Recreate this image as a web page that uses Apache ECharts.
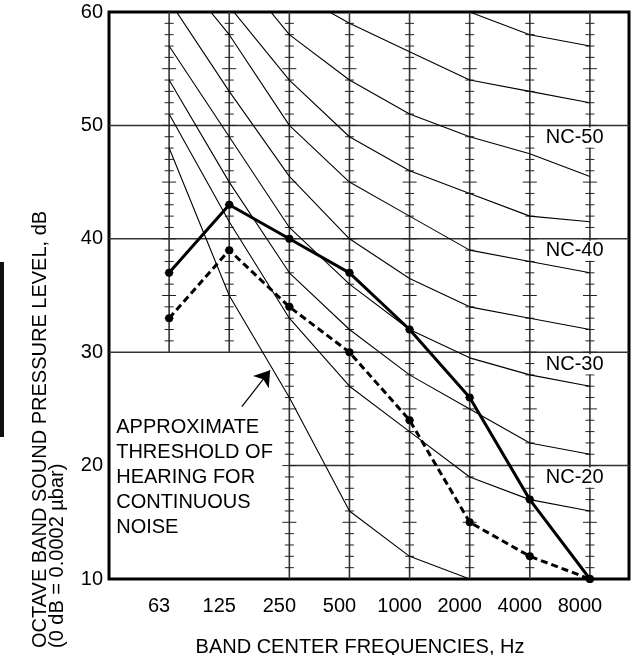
<!DOCTYPE html>
<html>
<head>
<meta charset="utf-8">
<title>NC curves</title>
<script src="https://cdn.jsdelivr.net/npm/echarts@6/dist/echarts.min.js"></script>
<style>
  html, body { margin: 0; padding: 0; background: #fff; }
  #chart { width: 631px; height: 655px; }
</style>
</head>
<body>
<div id="chart"></div>
<script>
// octave band centre frequencies (x categories, drawn on a value axis by index)
const freqLabels = ['63', '125', '250', '500', '1000', '2000', '4000', '8000'];

// NC curves, dB per band
const nc20 = [51, 41.5, 33, 27, 23, 19, 17, 16];
const nc25 = [54, 45, 37, 32, 28, 25, 22, 21];
const nc30 = [57, 49, 41, 36, 32, 29.5, 28, 27];
const nc35 = [61, 53, 45.5, 40, 36.5, 34, 33, 32];
const nc40 = [64.5, 58, 50, 45, 42, 39, 38, 37];
const nc45 = [67, 60.5, 54, 49, 46, 44, 42, 41.5];
const nc50 = [71, 64.5, 58, 54, 51, 49, 47.5, 45.5];
const nc55 = [74, 67, 62, 59, 56.5, 54, 53, 52];
const nc60 = [77, 71, 67, 63, 61, 60, 58, 57];
const ncCurves = [nc20, nc25, nc30, nc35, nc40, nc45, nc50, nc55, nc60];

// approximate threshold of hearing (63 .. 2000 Hz)
const threshold = [48, 35, 26, 16, 12, 10];

// measured spectra
const spectrumSolid = [37, 43, 40, 37, 32, 26, 17, 10];
const spectrumDashed = [33, 39, 34, 30, 24, 15, 12, 10];

// chart furniture
const ncLabelLevels = [50, 40, 30, 20];
const ruleLevels = [50, 40, 30, 20];
const ruleStart = [-1, -1, -1, 2];          // band index where each rule begins
const columnBottom = [30, 30, 10, 10, 10, 10, 10, 10];
const arrowFrom = [1.21, 25.2];
const arrowTo = [1.68, 28.4];
const noteLines = ['APPROXIMATE', 'THRESHOLD OF', 'HEARING FOR', 'CONTINUOUS', 'NOISE'];
const noteAnchor = [-0.88, 18.95];

const FONT = '"Liberation Sans", Arial, Helvetica, sans-serif';
const pts = arr => arr.map((v, i) => [i, v]);

const tickData = [];
columnBottom.forEach((bottom, i) => {
  for (let db = bottom + 1; db < 60; db++) tickData.push([i, db]);
});

const chart = echarts.init(document.getElementById('chart'));

const thinLine = {
  type: 'line',
  symbol: 'none',
  silent: true,
  z: 3,
  lineStyle: { color: '#000', width: 1.1 }
};

const option = {
  animation: false,
  backgroundColor: '#fff',
  grid: {
    left: 109, top: 12, right: 2, bottom: 76,
    outerBoundsMode: 'none',
    containLabel: false,
    show: true, borderColor: '#000', borderWidth: 3, backgroundColor: 'transparent'
  },
  xAxis: {
    type: 'value',
    min: -1,
    max: 7.65,
    interval: 1,
    axisLine: { show: false },
    axisTick: { show: false },
    splitLine: { show: false },
    axisLabel: {
      color: '#000', fontSize: 20, fontFamily: FONT, margin: 17,
      padding: [0, 20, 0, 0],
      showMaxLabel: false,
      formatter: v => freqLabels[v] || ''
    },
    name: 'BAND CENTER FREQUENCIES, Hz',
    nameLocation: 'middle',
    nameGap: 58,
    nameTextStyle: { color: '#000', fontSize: 20, fontFamily: FONT, padding: [0, 18, 0, 0] }
  },
  yAxis: {
    type: 'value',
    min: 10,
    max: 60,
    interval: 10,
    axisLine: { show: false },
    axisTick: { show: false },
    splitLine: { show: false },
    axisLabel: { color: '#000', fontSize: 20, fontFamily: FONT, margin: 6 }
  },
  graphic: [
    {
      type: 'text', x: 40, y: 648, rotation: Math.PI / 2,
      style: {
        text: 'OCTAVE BAND SOUND PRESSURE LEVEL, dB',
        fill: '#000', font: '20px ' + FONT, align: 'left', verticalAlign: 'middle'
      }
    },
    {
      type: 'text', x: 57, y: 648, rotation: Math.PI / 2,
      style: {
        text: '(0 dB = 0.0002 \u00b5bar)',
        fill: '#000', font: '20px ' + FONT, align: 'left', verticalAlign: 'middle'
      }
    },
    { type: 'rect', shape: { x: 0, y: 262, width: 4, height: 175 }, style: { fill: '#111' } }
  ],
  series: [
    {
      // horizontal rules
      type: 'custom', silent: true, z: 1,
      data: ruleLevels.map((lv, i) => [ruleStart[i], lv]),
      renderItem: (params, api) => {
        const p = api.coord([api.value(0), api.value(1)]);
        const right = params.coordSys.x + params.coordSys.width;
        return {
          type: 'line',
          shape: { x1: p[0], y1: p[1], x2: right, y2: p[1] },
          style: { stroke: '#333', lineWidth: 1.5 }
        };
      }
    },
    {
      // band columns
      type: 'custom', silent: true, z: 1,
      data: columnBottom.map((b, i) => [i, b]),
      renderItem: (params, api) => {
        const a = api.coord([api.value(0), api.value(1)]);
        const b = api.coord([api.value(0), 60]);
        return {
          type: 'line',
          shape: { x1: a[0], y1: a[1], x2: b[0], y2: b[1] },
          style: { stroke: '#333', lineWidth: 1.6 }
        };
      }
    },
    {
      // 1 dB ticks on the columns, longer every 5 dB
      type: 'custom', silent: true, z: 1,
      data: tickData,
      renderItem: (params, api) => {
        const p = api.coord([api.value(0), api.value(1)]);
        const half = api.value(1) % 5 === 0 ? 7 : 4.5;
        return {
          type: 'line',
          shape: { x1: p[0] - half, y1: p[1], x2: p[0] + half, y2: p[1] },
          style: { stroke: '#222', lineWidth: 1 }
        };
      }
    },
    ...ncCurves.map(vals => Object.assign({}, thinLine, { data: pts(vals) })),
    Object.assign({}, thinLine, {
      data: pts(threshold),
      markLine: {
        silent: true,
        symbol: ['none', 'arrow'],
        symbolSize: 15,
        lineStyle: { color: '#000', width: 1.2, type: 'solid', opacity: 1 },
        label: { show: false },
        data: [[{ coord: arrowFrom }, { coord: arrowTo }]]
      }
    }),
    {
      type: 'line', silent: true, z: 5,
      data: pts(spectrumSolid),
      symbol: 'circle', symbolSize: 8,
      itemStyle: { color: '#000' },
      lineStyle: { color: '#000', width: 3 }
    },
    {
      type: 'line', silent: true, z: 5,
      data: pts(spectrumDashed),
      symbol: 'circle', symbolSize: 8,
      itemStyle: { color: '#000' },
      lineStyle: { color: '#000', width: 3, type: [7, 4] }
    },
    {
      // NC labels
      type: 'scatter', silent: true, z: 6,
      symbolSize: 0,
      itemStyle: { opacity: 1 },
      data: ncLabelLevels.map(lv => [6, lv]),
      label: {
        show: true, position: 'right', distance: 15, offset: [0, 12],
        formatter: p => 'NC-' + p.value[1],
        color: '#000', opacity: 1, fontSize: 20, fontFamily: FONT,
        backgroundColor: '#fff', padding: [0, 1]
      }
    },
    {
      // annotation text
      type: 'scatter', silent: true, z: 6,
      symbolSize: 0,
      itemStyle: { opacity: 1 },
      data: [noteAnchor],
      label: {
        show: true, position: 'right', distance: 0,
        formatter: () => noteLines.join('\n'),
        color: '#000', opacity: 1, fontSize: 20, lineHeight: 25, fontFamily: FONT, align: 'left'
      }
    }
  ]
};

chart.setOption(option);
</script>
</body>
</html>
